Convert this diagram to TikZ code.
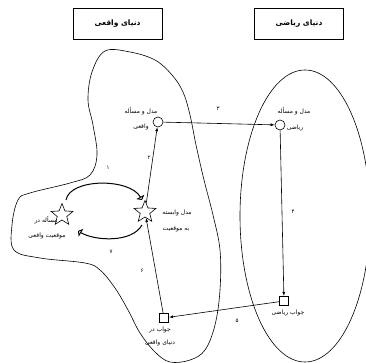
\documentclass[tikz,border=0pt]{standalone}
\usepackage{fontspec}
\newfontfamily\fa[Script=Arabic]{DejaVu Sans}
\TeXXeTstate=1
\usetikzlibrary{arrows.meta,positioning,shapes.geometric}

\begin{document}
\begin{tikzpicture}[
  x=1pt, y=1pt, line width=0.6pt,
  world/.style={rectangle, draw, minimum width=89pt, minimum height=31pt, font=\fa\bfseries\fontsize{7.5}{9}\selectfont},
  ring/.style={circle, draw, fill=white, minimum size=10pt, inner sep=0pt},
  box/.style={rectangle, draw, fill=white, minimum size=9.5pt, inner sep=0pt},
  spot/.style={star, star points=5, star point ratio=2.3, draw, fill=white, minimum size=23pt, inner sep=0pt},
  txt/.style={inner sep=0pt, font=\fa\fontsize{6}{7}\selectfont},
  num/.style={inner sep=0pt, font=\fa\fontsize{5.5}{6}\selectfont},
  flow/.style={-{Latex[length=4pt,width=3pt]}},
  turn/.style={-{Triangle[open,length=3.5pt,width=9pt]}, line width=1pt},
]
  \useasboundingbox (0,0) rectangle (366,363);

  % the two worlds
  \draw[line join=round] plot[smooth cycle, tension=0.6] coordinates {
    (105,312) (130,311) (155,303) (172,288) (183,271) (190,248) (196,218)
    (204,183) (213,148) (220,113) (220,73) (215,38) (205,13) (190,3)
    (170,1) (155,11) (140,30) (128,53) (115,75) (100,93) (85,100) (40,105)
    (14,113) (12,138) (18,163) (30,170) (70,180) (90,188) (97,208)
    (93,238) (88,263) (92,291)};
  \draw (305,147) ellipse (65 and 146);

  \node[world] (realworld) at (117.5,339.5) {\beginR دنیای واقعی\endR};
  \node[world] (mathworld) at (299,339.5) {\beginR دنیای ریاضی\endR};

  % markers
  \node[ring] (realmodel) at (158,241) {};
  \node[ring] (mathmodel) at (280,238) {};
  \node[spot] (probstar) at (62,148) {};
  \node[spot] (modelstar) at (145,151) {};
  \node[box] (mathans) at (284,62) {};
  \node[box] (realans) at (164,45) {};

  % labels
  \node[txt] (realmodeltop) at (141,252) {\beginR مدل و مسأله\endR};
  \node[txt] (realmodelbot) at (141,236) {\beginR واقعی\endR};
  \node[txt] (mathmodeltop) at (294,252) {\beginR مدل و مسأله\endR};
  \node[txt] (mathmodelbot) at (295,235) {\beginR ریاضی\endR};
  \node[txt] (probtop) at (46,143) {\beginR مسأله در\endR};
  \node[txt] (probbot) at (47,127) {\beginR موقعیت واقعی\endR};
  \node[txt] (modeltop) at (177,150) {\beginR مدل وابسته\endR};
  \node[txt] (modelbot) at (176,134) {\beginR به موقعیت\endR};
  \node[txt] (mathanstxt) at (288,50) {\beginR جواب ریاضی\endR};
  \node[txt] (realanstop) at (160,33) {\beginR جواب در\endR};
  \node[txt] (realansbot) at (160,20) {\beginR دنیای واقعی\endR};

  % step numbers
  \node[num] (n1) at (108,195) {۱};
  \node[num] (n2) at (149,205) {۲};
  \node[num] (n3) at (218,254) {۳};
  \node[num] (n4) at (293,151) {۴};
  \node[num] (n5) at (237,42) {۵};
  \node[num] (n6) at (142,92) {۶};
  \node[num] (n7) at (111,111) {۷};

  % arrows
  \draw[flow] (realmodel) -- (mathmodel);
  \draw[flow] (mathmodel) -- (mathans);
  \draw[flow] (mathans) -- (realans);
  \draw[flow] (realans) -- (modelstar);
  \draw[flow] (modelstar) -- (realmodel);
  \draw[turn] ([shift={(4pt,15pt)}]probstar.center) .. controls +(4,22) and +(-12,22) .. ([shift={(-3pt,12pt)}]modelstar.center);
  \draw[turn] ([shift={(-3pt,-13pt)}]modelstar.center) .. controls +(-10,-18) and +(17,-10) .. ([shift={(16pt,-16pt)}]probstar.center);
\end{tikzpicture}
\end{document}
